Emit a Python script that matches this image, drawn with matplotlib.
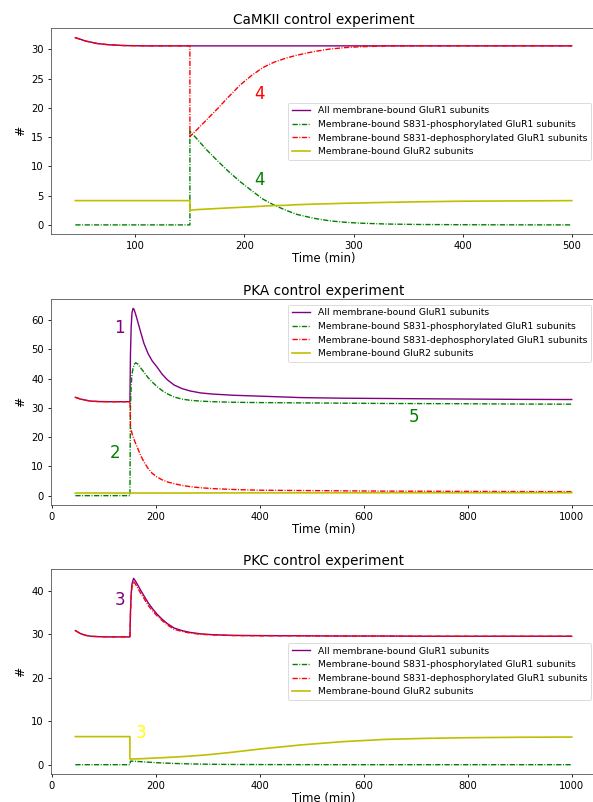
import matplotlib
matplotlib.use("Agg")
import matplotlib.pyplot as plt

# ---------------- data ----------------
labels = ["All membrane-bound GluR1 subunits",
          "Membrane-bound S831-phosphorylated GluR1 subunits",
          "Membrane-bound S831-dephosphorylated GluR1 subunits",
          "Membrane-bound GluR2 subunits"]
titles = ["CaMKII control experiment", "PKA control experiment", "PKC control experiment"]

# CaMKII
cam_t = [45, 55, 65, 75, 90, 110, 150, 150, 155, 165, 175, 185, 196, 207, 217, 227, 238, 248,
         263, 278, 292, 306, 330, 360, 400, 450, 500]
cam_all = [32.0, 31.4, 31.0, 30.8, 30.65, 30.6, 30.6, 30.6, 30.6, 30.6, 30.6, 30.6, 30.6, 30.6,
           30.6, 30.6, 30.6, 30.6, 30.6, 30.6, 30.6, 30.6, 30.6, 30.6, 30.6, 30.6, 30.6]
cam_phos = [0, 0, 0, 0, 0, 0, 0, 16.0, 15.0, 12.9, 11.0, 9.2, 7.4, 5.8, 4.4, 3.4, 2.5, 1.8,
            1.15, 0.7, 0.45, 0.3, 0.15, 0.07, 0.03, 0.01, 0.0]
cam_deph = [32.0, 31.4, 31.0, 30.8, 30.65, 30.6, 30.6, 15.1, 16.0, 17.9, 19.8, 21.8, 23.9, 25.6,
            26.9, 27.8, 28.5, 29.0, 29.6, 30.05, 30.3, 30.45, 30.58, 30.6, 30.6, 30.6, 30.6]
cam_glur2 = [4.15, 4.15, 4.15, 4.15, 4.15, 4.15, 4.15, 2.5, 2.6, 2.7, 2.8, 2.9, 3.0, 3.1, 3.2,
             3.3, 3.35, 3.45, 3.55, 3.62, 3.7, 3.75, 3.85, 3.95, 4.05, 4.1, 4.15]

# PKA
pka_t = [45, 55, 65, 75, 90, 110, 150, 150, 151, 152.5, 154, 156, 158, 161, 165, 170, 177, 185,
         193, 202, 212, 222, 235, 250, 265, 286, 310, 350, 400, 480, 560, 640, 720, 800, 900, 1000]
pka_all = [33.6, 33.0, 32.6, 32.3, 32.15, 32.1, 32.1, 32.1, 48.0, 58.0, 62.5, 64.0, 63.6, 62.0,
           59.5, 56.3, 52.0, 48.5, 46.0, 44.0, 41.5, 39.6, 37.8, 36.6, 35.8, 35.1, 34.7, 34.3,
           34.0, 33.5, 33.3, 33.2, 33.1, 33.0, 32.9, 32.85]
pka_phos = [0, 0, 0, 0, 0, 0, 0, 0, 30.0, 38.0, 41.5, 43.5, 44.8, 45.4, 45.0, 43.8, 42.2, 40.3,
            38.8, 37.3, 35.9, 34.8, 33.7, 33.0, 32.6, 32.3, 32.1, 31.9, 31.8, 31.7, 31.6, 31.5,
            31.45, 31.4, 31.3, 31.25]
pka_deph = [33.6, 33.0, 32.6, 32.3, 32.15, 32.1, 32.1, 32.1, 24.0, 22.5, 21.2, 20.2, 19.2, 17.8,
            16.2, 14.0, 11.5, 9.3, 7.6, 6.4, 5.4, 4.7, 4.1, 3.5, 3.1, 2.7, 2.4, 2.1, 1.85, 1.75,
            1.65, 1.55, 1.5, 1.45, 1.4, 1.37]
pka_glur2 = [0.9, 0.9, 0.9, 0.9, 0.9, 0.9, 0.9, 0.9, 0.9, 0.9, 0.9, 0.9, 0.9, 0.9, 0.9, 0.9,
             0.9, 0.9, 0.9, 0.9, 0.9, 0.9, 0.9, 0.9, 0.9, 0.92, 0.93, 0.94, 0.95, 0.96, 0.97,
             0.98, 0.98, 0.99, 1.0, 1.0]

# PKC
pkc_t = [45, 55, 65, 75, 90, 110, 150, 150, 151, 152.5, 154, 157, 160, 165, 170, 177, 185, 193,
         202, 212, 222, 235, 250, 265, 286, 310, 350, 400, 480, 560, 640, 720, 800, 900, 1000]
pkc_all = [30.8, 30.1, 29.7, 29.5, 29.4, 29.35, 29.35, 29.35, 35.0, 39.5, 41.5, 42.8, 42.3, 41.3,
           40.2, 38.8, 37.2, 35.9, 34.6, 33.4, 32.4, 31.4, 30.8, 30.4, 30.05, 29.85, 29.7,
           29.65, 29.6, 29.55, 29.55, 29.5, 29.5, 29.5, 29.5]
pkc_phos = [0, 0, 0, 0, 0, 0, 0, 0, 0.8, 0.82, 0.82, 0.8, 0.78, 0.74, 0.7, 0.65, 0.58, 0.52,
            0.45, 0.4, 0.35, 0.29, 0.23, 0.18, 0.13, 0.09, 0.05, 0.03, 0.01, 0, 0, 0, 0, 0, 0]
pkc_deph = [30.8, 30.1, 29.7, 29.5, 29.4, 29.35, 29.35, 29.35, 34.3, 38.8, 40.8, 42.1, 41.6,
            40.6, 39.5, 38.2, 36.6, 35.4, 34.2, 33.1, 32.1, 31.1, 30.6, 30.25, 29.95, 29.8,
            29.65, 29.6, 29.6, 29.55, 29.55, 29.5, 29.5, 29.5, 29.5]
pkc_glur2 = [6.45, 6.45, 6.45, 6.45, 6.45, 6.45, 6.45, 1.3, 1.3, 1.3, 1.31, 1.32, 1.33, 1.35,
             1.37, 1.4, 1.45, 1.5, 1.55, 1.6, 1.67, 1.75, 1.85, 1.97, 2.15, 2.4, 2.9, 3.6,
             4.55, 5.3, 5.8, 6.05, 6.2, 6.3, 6.35]

# annotations: (panel, x, y, text, color)
notes = [(0, 214, 22.3, "4", "red"), (0, 214, 7.6, "4", "green"),
         (1, 130, 57.4, "1", "purple"), (1, 122, 14.7, "2", "green"), (1, 697, 26.9, "5", "green"),
         (2, 130, 37.8, "3", "purple"), (2, 171, 7.2, "3", "yellow")]

panels = [(cam_t, cam_all, cam_phos, cam_deph, cam_glur2, "center right"),
          (pka_t, pka_all, pka_phos, pka_deph, pka_glur2, "upper right"),
          (pkc_t, pkc_all, pkc_phos, pkc_deph, pkc_glur2, "center right")]

# ---------------- figure ----------------
fig = plt.figure(figsize=(5.93, 8.02), dpi=100)
positions = [[0.0852, 0.7079, 0.9208, 0.2568],
             [0.0852, 0.3703, 0.9208, 0.2569],
             [0.0852, 0.0349, 0.9208, 0.2556]]

dd = (0, (3.8, 1.1, 0.7, 1.1))
axes = []
for i, (t, a, p, d, g, loc) in enumerate(panels):
    ax = fig.add_axes(positions[i])
    ax.plot(t, a, color="purple", lw=1.0, label=labels[0])
    ax.plot(t, p, color="g", lw=1.0, linestyle=dd, label=labels[1])
    ax.plot(t, d, color="r", lw=1.0, linestyle=dd, label=labels[2])
    ax.plot(t, g, color="y", lw=1.2, label=labels[3])
    ax.set_title(titles[i], fontsize=9.8, pad=3)
    ax.set_xlabel("Time (min)", fontsize=8.4, labelpad=1)
    ax.set_ylabel("#", fontsize=8.8, labelpad=3)
    ax.tick_params(labelsize=7.2, length=2.5, width=0.6, pad=2.2)
    for sp in ax.spines.values():
        sp.set_linewidth(0.6)
        sp.set_color("#555555")
    leg = ax.legend(loc=loc, fontsize=6.7, borderaxespad=0.6)
    leg.get_frame().set_linewidth(0.6)
    axes.append(ax)

for k, x, y, s, c in notes:
    axes[k].text(x, y, s, color=c, fontsize=12, ha="center", va="center")

fig.savefig("out.png", dpi=100)
